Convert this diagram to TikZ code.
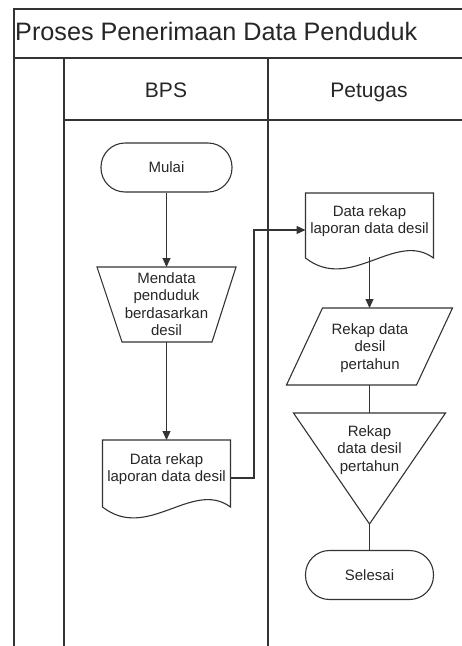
\documentclass[tikz,border=0pt]{standalone}
\usepackage{fontspec}
\setmainfont{Liberation Sans}
\usetikzlibrary{arrows.meta}
\begin{document}
\begin{tikzpicture}[x=1pt,y=-1pt,
  ln/.style={draw=black!80, line width=1.1pt},
  lane/.style={draw=black!80, line width=1.3pt},
  txt/.style={font=\fontsize{15}{17.5}\selectfont, align=center, inner sep=0pt, text=black!85},
  term/.style={txt, ln, rounded corners=24pt, minimum width=#1, minimum height=49pt},
  shp/.style={inner sep=0pt, outer sep=0pt},
  arr/.style={ln, -{Triangle[length=9pt,width=8pt]}},
]
\useasboundingbox (0,0) rectangle (462,646);
\clip (0,0) rectangle (462,646);

% swimlane frame
\draw[lane] (14,646) -- (14,9) -- (462,9);
\draw[lane] (14,58) -- (462,58);
\draw[lane] (64,58) -- (64,646);
\draw[lane] (268,58) -- (268,646);
\draw[lane] (64,120) -- (462,120);

\node[anchor=base west, inner sep=0pt, font=\fontsize{25.2}{29}\selectfont, text=black!85] (title) at (15,40) {Proses Penerimaan Data Penduduk};
\node[anchor=base, inner sep=0pt, font=\fontsize{21}{24}\selectfont, text=black!85] (hbps) at (166,97) {BPS};
\node[anchor=base, inner sep=0pt, font=\fontsize{21}{24}\selectfont, text=black!85] (hpet) at (369,97) {Petugas};

% BPS lane
\node[term=131pt] (start) at (166.5,167.5) {Mulai};

\node[shp, minimum width=139pt, minimum height=75pt] (m) at (166.5,304.5) {};
\draw[ln] (m.north west) -- (m.north east) -- ([xshift=-24pt]m.south east) -- ([xshift=25pt]m.south west) -- cycle;
\node[txt] (mt) at (166.5,304) {Mendata\\penduduk\\berdasarkan\\desil};

\node[shp, minimum width=128pt, minimum height=76pt] (d1) at (166.5,478) {};
\draw[ln] (d1.north west) -- ([yshift=9pt]d1.south west) .. controls +(45,35) and +(-38,-28) .. ([yshift=9pt]d1.south east) -- (d1.north east) -- cycle;
\node[txt] (d1t) at (166.5,469) {Data rekap\\laporan data desil};

% Petugas lane
\node[shp, minimum width=128pt, minimum height=74pt] (d2) at (369.5,230) {};
\draw[ln] (d2.north west) -- ([yshift=9pt]d2.south west) .. controls +(45,35) and +(-38,-28) .. ([yshift=9pt]d2.south east) -- (d2.north east) -- cycle;
\node[txt] (d2t) at (369.5,221) {Data rekap\\laporan data desil};

\node[shp, minimum width=166pt, minimum height=77pt] (p) at (369.5,346.5) {};
\draw[ln] ([xshift=36pt]p.north west) -- (p.north east) -- ([xshift=-36pt]p.south east) -- (p.south west) -- cycle;
\node[txt] (pt) at (370,348) {Rekap data\\desil\\pertahun};

\node[shp, minimum width=152pt, minimum height=111pt] (t) at (369.5,468.5) {};
\draw[ln] (t.north west) -- (t.north east) -- (t.south) -- cycle;
\node[txt] (tt) at (369.5,450) {Rekap\\data desil\\pertahun};

\node[term=128pt] (stop) at (369.5,575) {Selesai};

% connectors
\coordinate (bend) at (254,478);
\draw[arr] (start) -- (m);
\draw[arr] (m) -- (d1);
\draw[arr] (d1.east) -- (bend) |- (d2.west);
\draw[arr] ([yshift=10pt]d2.south) -- (p);
\draw[ln] (p) -- (t);
\draw[ln] (t.south) -- (stop);
\end{tikzpicture}
\end{document}
